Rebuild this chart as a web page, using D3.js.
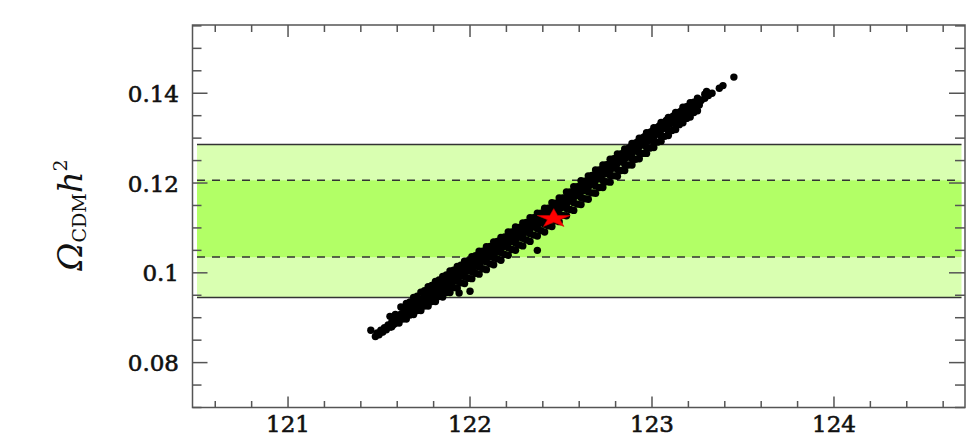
<!DOCTYPE html>
<html><head><meta charset="utf-8">
<script src="https://cdn.jsdelivr.net/npm/d3@7"></script>
<style>
html,body{margin:0;padding:0;background:#fff;}
svg{display:block;}
</style></head>
<body>
<script>
// ---- data ----
const xTicks = [121, 122, 123, 124];
const xTickLabels = ["121", "122", "123", "124"];
const yTicks = [0.08, 0.10, 0.12, 0.14];
const yTickLabels = ["0.08", "0.1", "0.12", "0.14"];
const bandOuter = [0.0945, 0.1286];   // 2-sigma band (solid lines)
const bandInner = [0.1035, 0.1206];   // 1-sigma band (dashed lines)
const bestFit = [122.46, 0.1121];     // red star
const samplesCore = [
[121.455,0.0872],[121.48,0.0858],[121.49,0.0866],[121.50,0.0862],[121.51,0.0872],[121.52,0.0868],
[121.53,0.0878],[121.54,0.0873],[121.55,0.0884],[121.56,0.0879],[121.57,0.0890],[121.58,0.0885],
[121.59,0.0896],[121.59,0.0888],[121.60,0.0903],[121.61,0.0895],[121.62,0.0908],[121.63,0.0900],
[121.64,0.0914],[121.64,0.0905],[121.66,0.0920],[121.66,0.0909],[121.67,0.0914],[121.68,0.0926],
[121.69,0.0917],[121.70,0.0932],[121.70,0.0922],[121.72,0.0938],[121.72,0.0926],[121.73,0.0931],
[121.74,0.0943],[121.75,0.0935],[121.76,0.0950],[121.76,0.0940],[121.78,0.0955],[121.78,0.0944],
[121.79,0.0949],[121.80,0.0962],[121.81,0.0952],[121.82,0.0968],[121.82,0.0957],[121.84,0.0974],
[121.84,0.0962],[121.85,0.0967],[121.86,0.0980],[121.87,0.0969],[121.88,0.0986],[121.88,0.0975],
[121.90,0.0991],[121.90,0.0978],[121.91,0.0984],[121.92,0.0997],[121.93,0.0986],[121.94,0.1003],
[121.94,0.0992],[121.96,0.1008],[121.96,0.0995],[121.97,0.1001],[121.98,0.1014],[121.99,0.1004],
[122.00,0.1019],[122.00,0.1008],[122.02,0.1025],[122.02,0.1012],[122.03,0.1017],[122.04,0.1030],
[122.05,0.1019],[122.06,0.1036],[122.06,0.1024],[122.08,0.1042],[122.08,0.1028],[122.09,0.1033],
[122.10,0.1047],[122.11,0.1036],[122.12,0.1053],[122.12,0.1041],[122.14,0.1058],[122.14,0.1045],
[122.15,0.1050],[122.16,0.1064],[122.17,0.1053],[122.18,0.1069],[122.18,0.1058],[122.20,0.1075],
[122.20,0.1062],[122.21,0.1066],[122.22,0.1080],[122.23,0.1070],[122.24,0.1086],[122.24,0.1074],
[122.26,0.1091],[122.26,0.1078],[122.27,0.1082],[122.28,0.1097],[122.29,0.1086],[122.30,0.1102],
[122.30,0.1090],[122.32,0.1108],[122.32,0.1094],[122.33,0.1099],[122.34,0.1113],[122.35,0.1102],
[122.36,0.1119],[122.36,0.1107],[122.38,0.1124],[122.38,0.1110],[122.39,0.1115],[122.40,0.1130],
[122.41,0.1118],[122.42,0.1136],[122.42,0.1123],[122.44,0.1141],[122.44,0.1127],[122.45,0.1131],
[122.46,0.1147],[122.47,0.1135],[122.48,0.1153],[122.48,0.1140],[122.50,0.1160],[122.50,0.1145],
[122.51,0.1150],[122.52,0.1166],[122.53,0.1153],[122.54,0.1172],[122.54,0.1159],[122.56,0.1178],
[122.56,0.1163],[122.57,0.1168],[122.58,0.1185],[122.59,0.1172],[122.60,0.1191],[122.60,0.1177],
[122.62,0.1197],[122.62,0.1182],[122.63,0.1187],[122.64,0.1204],[122.65,0.1191],[122.66,0.1210],
[122.66,0.1196],[122.68,0.1216],[122.68,0.1201],[122.69,0.1206],[122.70,0.1222],[122.71,0.1210],
[122.72,0.1229],[122.72,0.1214],[122.74,0.1235],[122.74,0.1220],[122.75,0.1225],[122.76,0.1241],
[122.77,0.1229],[122.78,0.1247],[122.78,0.1233],[122.80,0.1254],[122.80,0.1239],[122.81,0.1244],
[122.82,0.1260],[122.83,0.1248],[122.84,0.1266],[122.84,0.1252],[122.86,0.1272],[122.86,0.1257],
[122.87,0.1262],[122.88,0.1279],[122.89,0.1266],[122.90,0.1285],[122.90,0.1271],[122.92,0.1291],
[122.92,0.1276],[122.93,0.1281],[122.94,0.1297],[122.95,0.1285],[122.96,0.1304],[122.96,0.1289],
[122.98,0.1309],[122.98,0.1294],[122.99,0.1299],[123.00,0.1315],[123.01,0.1303],[123.02,0.1321],
[123.02,0.1308],[123.04,0.1327],[123.04,0.1313],[123.05,0.1318],[123.06,0.1334],[123.07,0.1322],
[123.08,0.1340],[123.08,0.1326],[123.10,0.1345],[123.10,0.1332],[123.11,0.1337],[123.12,0.1350],
[123.13,0.1341],[123.14,0.1355],[123.15,0.1345],[123.16,0.1360],[123.17,0.1351],[123.18,0.1366],
[123.19,0.1356],[123.20,0.1371],[123.21,0.1362],[123.22,0.1377],[123.23,0.1368],[123.25,0.1381],
[123.27,0.1384],[123.26,0.1374],[123.29,0.1389],[123.31,0.1395],[123.33,0.1400],[123.37,0.1411],
[123.39,0.1417],[123.45,0.1436],[123.30,0.1404],
[122.37,0.1050],[121.94,0.0955],[122.00,0.0959]
];
const samplesUpper = [
[121.56,0.0903],[121.62,0.0924],[121.65,0.0932],[121.69,0.0945],[121.73,0.0957],[121.77,0.0969],
[121.81,0.0981],[121.85,0.0992],[121.89,0.1004],[121.93,0.1014],[121.97,0.1026],[122.01,0.1036],
[122.05,0.1048],[122.09,0.1058],[122.13,0.1069],[122.17,0.1079],[122.21,0.1091],[122.25,0.1102],
[122.29,0.1111],[122.33,0.1123],[122.37,0.1133],[122.41,0.1144],[122.45,0.1156],[122.49,0.1167],
[122.53,0.1180],[122.57,0.1192],[122.61,0.1205],[122.65,0.1216],[122.69,0.1229],[122.73,0.1240],
[122.77,0.1253],[122.81,0.1265],[122.85,0.1276],[122.89,0.1288],[122.93,0.1300],[122.97,0.1312],
[123.01,0.1323],[123.05,0.1335],[123.09,0.1346],[123.13,0.1357],[123.17,0.1369],[123.21,0.1379],
[123.25,0.1389],[123.29,0.1398]
];
const samplesUpperMid = [
[121.59,0.0907],[121.63,0.0922],[121.67,0.0935],[121.71,0.0948],[121.75,0.0960],[121.79,0.0972],
[121.83,0.0984],[121.87,0.0995],[121.91,0.1006],[121.95,0.1017],[121.99,0.1027],[122.03,0.1038],
[122.07,0.1048],[122.11,0.1059],[122.15,0.1070],[122.19,0.1080],[122.23,0.1091],[122.27,0.1101],
[122.31,0.1112],[122.35,0.1123],[122.39,0.1133],[122.43,0.1144],[122.47,0.1155],[122.51,0.1167],
[122.55,0.1180],[122.59,0.1192],[122.63,0.1204],[122.67,0.1217],[122.71,0.1229],[122.75,0.1241],
[122.79,0.1254],[122.83,0.1265],[122.87,0.1277],[122.91,0.1289],[122.95,0.1301],[122.99,0.1313],
[123.03,0.1324],[123.07,0.1336],[123.11,0.1347],[123.15,0.1358],[123.19,0.1370],[123.23,0.1380]
];
const samplesLowerInner = [
[121.61,0.0898],[121.65,0.0908],[121.69,0.0918],[121.73,0.0928],[121.77,0.0939],[121.81,0.0950],
[121.85,0.0960],[121.89,0.0971],[121.93,0.0981],[121.97,0.0992],[122.01,0.1003],[122.05,0.1013],
[122.09,0.1024],[122.13,0.1034],[122.17,0.1045],[122.21,0.1056],[122.25,0.1066],[122.29,0.1077],
[122.33,0.1087],[122.37,0.1098],[122.41,0.1108],[122.45,0.1119],[122.49,0.1131],[122.53,0.1143],
[122.57,0.1156],[122.61,0.1168],[122.65,0.1180],[122.69,0.1193],[122.73,0.1205],[122.77,0.1217],
[122.81,0.1230],[122.85,0.1242],[122.89,0.1254],[122.93,0.1267],[122.97,0.1279],[123.01,0.1291],
[123.05,0.1304],[123.09,0.1316],[123.13,0.1329],[123.17,0.1342],[123.21,0.1355]
];
const samplesLowerMid = [
[121.59,0.0888],[121.63,0.0897],[121.67,0.0906],[121.71,0.0916],[121.75,0.0926],[121.79,0.0936],
[121.83,0.0947],[121.87,0.0956],[121.91,0.0967],[121.95,0.0978],[121.99,0.0988],[122.03,0.0999],
[122.07,0.1009],[122.11,0.1020],[122.15,0.1031],[122.19,0.1041],[122.23,0.1052],[122.27,0.1062],
[122.31,0.1073],[122.35,0.1084],[122.39,0.1094],[122.43,0.1105],[122.47,0.1116],[122.51,0.1128],
[122.55,0.1141],[122.59,0.1153],[122.63,0.1165],[122.67,0.1178],[122.71,0.1190],[122.75,0.1203],
[122.79,0.1216],[122.83,0.1228],[122.87,0.1240],[122.91,0.1253],[122.95,0.1266],[122.99,0.1278],
[123.03,0.1291],[123.07,0.1304],[123.11,0.1317],[123.15,0.1330],[123.19,0.1344],[123.23,0.1357]
];
const samplesLower = [
[121.52,0.0869],[121.57,0.0880],[121.61,0.0888],[121.65,0.0897],[121.69,0.0907],[121.73,0.0916],
[121.77,0.0926],[121.81,0.0936],[121.85,0.0946],[121.89,0.0956],[121.93,0.0966],[121.97,0.0976],
[122.01,0.0987],[122.05,0.0997],[122.09,0.1007],[122.13,0.1018],[122.17,0.1028],[122.21,0.1039],
[122.25,0.1050],[122.29,0.1060],[122.33,0.1070],[122.37,0.1082],[122.41,0.1091],[122.45,0.1103],
[122.49,0.1114],[122.53,0.1127],[122.57,0.1139],[122.61,0.1152],[122.65,0.1164],[122.69,0.1177],
[122.73,0.1190],[122.77,0.1202],[122.81,0.1215],[122.85,0.1228],[122.89,0.1240],[122.93,0.1254],
[122.97,0.1266],[123.01,0.1279],[123.05,0.1293],[123.09,0.1306],[123.13,0.1319],[123.17,0.1334],
[123.21,0.1347],[123.25,0.1361]
];
const samples = samplesCore.concat(samplesUpper, samplesUpperMid, samplesLowerInner, samplesLowerMid, samplesLower);

// ---- layout ----
const W = 970, H = 436;
const L = 192.5, R = 965, T = 25, B = 407.5;
const x = d3.scaleLinear().domain([120.475, 124.72]).range([L, R]);
const y = d3.scaleLinear().domain([0.0700, 0.1552]).range([B, T]);

const svg = d3.select("body").append("svg").attr("width", W).attr("height", H);

// bands
const bx0 = L + 4.5, bx1 = R - 3.5;
svg.append("rect").attr("x", bx0).attr("width", bx1 - bx0)
  .attr("y", y(bandOuter[1])).attr("height", y(bandOuter[0]) - y(bandOuter[1]))
  .attr("fill", "#d9ffb1");
svg.append("rect").attr("x", bx0).attr("width", bx1 - bx0)
  .attr("y", y(bandInner[1])).attr("height", y(bandInner[0]) - y(bandInner[1]))
  .attr("fill", "#b2ff66");
bandOuter.forEach(v => svg.append("line").attr("x1", bx0).attr("x2", bx1)
  .attr("y1", y(v)).attr("y2", y(v)).attr("stroke", "#333").attr("stroke-width", 1.5));
bandInner.forEach(v => svg.append("line").attr("x1", bx0).attr("x2", bx1)
  .attr("y1", y(v)).attr("y2", y(v)).attr("stroke", "#333").attr("stroke-width", 1.5)
  .attr("stroke-dasharray", "8,7"));

// scatter
svg.append("g").selectAll("circle").data(samples).join("circle")
  .attr("cx", d => x(d[0])).attr("cy", d => y(d[1])).attr("r", 3.7).attr("fill", "#000");

// star
svg.append("path").attr("d", d3.symbol(d3.symbolStar).size(150)())
  .attr("transform", `translate(${x(bestFit[0])},${y(bestFit[1])}) scale(1.5,0.85)`)
  .attr("fill", "#ff0000").attr("stroke", "#cc0000").attr("stroke-width", 0.5);

// frame + ticks
const g = svg.append("g").attr("stroke", "#555").attr("fill", "none");
g.append("rect").attr("x", L).attr("y", T).attr("width", R - L).attr("height", B - T).attr("stroke-width", 1.5);
const xMinor = d3.range(120.6, 124.71, 0.2).filter(v => Math.abs(v - Math.round(v)) > 0.01);
const yMinor = d3.range(0.070, 0.1551, 0.005).filter(v => !yTicks.some(t => Math.abs(t - v) < 1e-6));
function vt(xv, y0, len) { g.append("line").attr("x1", x(xv)).attr("x2", x(xv)).attr("y1", y0).attr("y2", y0 + len).attr("stroke-width", 1.5); }
function ht(yv, x0, len) { g.append("line").attr("y1", y(yv)).attr("y2", y(yv)).attr("x1", x0).attr("x2", x0 + len).attr("stroke-width", 1.5); }
xTicks.forEach(v => { vt(v, B, -11); vt(v, T, 12); });
xMinor.forEach(v => { vt(v, B, -6.5); vt(v, T, 7); });
yTicks.forEach(v => { ht(v, L, 15); ht(v, R, -16); });
yMinor.forEach(v => { ht(v, L, 9); ht(v, R, -10); });

// tick labels
const font = "DejaVu Serif";
svg.append("g").selectAll("text").data(xTicks).join("text")
  .attr("x", d => x(d)).attr("y", 432).attr("text-anchor", "middle")
  .attr("font-family", font).attr("font-size", 23).attr("fill", "#111")
  .attr("stroke", "#111").attr("stroke-width", 0.6)
  .text((d, i) => xTickLabels[i]);
svg.append("g").selectAll("text").data(yTicks).join("text")
  .attr("x", 179).attr("y", d => y(d) + 8.5).attr("text-anchor", "end")
  .attr("font-family", font).attr("font-size", 23).attr("fill", "#111")
  .attr("stroke", "#111").attr("stroke-width", 0.6)
  .text((d, i) => yTickLabels[i]);

// y label
const yl = svg.append("text").attr("transform", "translate(82,215) rotate(-90)")
  .attr("text-anchor", "middle").attr("font-family", font).attr("fill", "#111");
yl.append("tspan").attr("font-size", 34).attr("font-style", "italic").text("Ω");
yl.append("tspan").attr("font-size", 19).attr("dy", 4).text("CDM");
yl.append("tspan").attr("font-size", 34).attr("font-style", "italic").attr("dy", -4).text("h");
yl.append("tspan").attr("font-size", 19).attr("dy", -15).text("2");
</script>
</body></html>
